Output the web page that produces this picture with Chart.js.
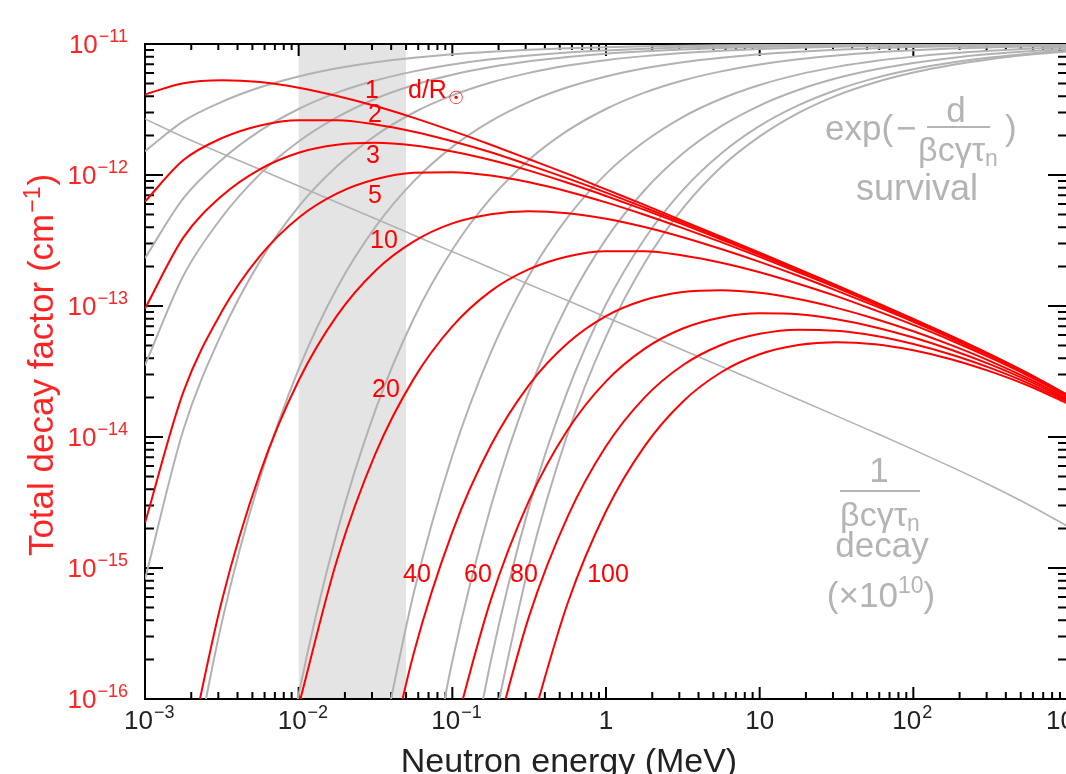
<!DOCTYPE html>
<html>
<head>
<meta charset="utf-8">
<title>Total decay factor</title>
<script src="https://cdn.jsdelivr.net/npm/chart.js@4.4.1/dist/chart.umd.min.js"></script>
<style>
  html, body { margin: 0; padding: 0; background: #fff; overflow: hidden; }
  canvas { display: block; }
</style>
</head>
<body>
<canvas id="decayChart" width="1100" height="774"></canvas>
<script>
// neutron energy (MeV), quarter-decade steps
const energies = [0.001, 0.00178, 0.00316, 0.00562, 0.01, 0.0178, 0.0316, 0.0562, 0.1, 0.178, 0.316, 0.562,
  1, 1.78, 3.16, 5.62, 10, 17.8, 31.6, 56.2, 100, 178, 316, 562, 1000];

// total decay factor (cm^-1), one curve per distance d/Rsun  (red)
const distances = ['1', '2', '3', '5', '10', '20', '40', '60', '80', '100'];
const total1 = [4.12e-12, 5.02e-12, 5.29e-12, 5.12e-12, 4.64e-12, 4.01e-12, 3.36e-12, 2.73e-12, 2.17e-12, 1.70e-12, 1.32e-12, 1.02e-12,
  7.76e-13, 5.91e-13, 4.47e-13, 3.38e-13, 2.55e-13, 1.92e-13, 1.44e-13, 1.073e-13, 7.96e-14, 5.87e-14, 4.27e-14, 3.04e-14, 2.10e-14];
const total2 = [6.27e-13, 1.30e-12, 1.91e-12, 2.39e-12, 2.62e-12, 2.62e-12, 2.43e-12, 2.14e-12, 1.81e-12, 1.49e-12, 1.19e-12, 9.42e-13,
  7.34e-13, 5.65e-13, 4.33e-13, 3.30e-13, 2.50e-13, 1.89e-13, 1.42e-13, 1.065e-13, 7.92e-14, 5.85e-14, 4.26e-14, 3.03e-14, 2.097e-14];
const total3 = [9.55e-14, 3.34e-13, 6.92e-13, 1.11e-12, 1.48e-12, 1.70e-12, 1.76e-12, 1.68e-12, 1.51e-12, 1.30e-12, 1.08e-12, 8.72e-13,
  6.92e-13, 5.42e-13, 4.20e-13, 3.22e-13, 2.46e-13, 1.86e-13, 1.41e-13, 1.057e-13, 7.88e-14, 5.82e-14, 4.24e-14, 3.02e-14, 2.093e-14];
const total5 = [2.21e-15, 2.22e-14, 9.06e-14, 2.42e-13, 4.72e-13, 7.23e-13, 9.27e-13, 1.04e-12, 1.05e-12, 9.90e-13, 8.79e-13, 7.49e-13,
  6.18e-13, 4.97e-13, 3.93e-13, 3.07e-13, 2.37e-13, 1.81e-13, 1.38e-13, 1.041e-13, 7.79e-14, 5.78e-14, 4.22e-14, 3.01e-14, 2.087e-14];
const total10 = [null, 2.52e-17, 5.61e-16, 5.36e-15, 2.70e-14, 8.48e-14, 1.86e-13, 3.11e-13, 4.27e-13, 5.02e-13, 5.29e-13, 5.11e-13,
  4.64e-13, 4.01e-13, 3.35e-13, 2.72e-13, 2.17e-13, 1.70e-13, 1.31e-13, 1.001e-13, 7.58e-14, 5.65e-14, 4.16e-14, 2.98e-14, 2.07e-14];
const total20 = [null, null, null, null, 8.88e-17, 1.16e-15, 7.46e-15, 2.79e-14, 6.99e-14, 1.30e-13, 1.91e-13, 2.39e-13,
  2.62e-13, 2.62e-13, 2.43e-13, 2.14e-13, 1.81e-13, 1.48e-13, 1.19e-13, 9.30e-14, 7.17e-14, 5.43e-14, 4.03e-14, 2.92e-14, 2.04e-14];
const total40 = [null, null, null, null, null, null, 1.20e-17, 2.25e-16, 1.88e-15, 8.60e-15, 2.50e-14, 5.19e-14,
  8.36e-14, 1.11e-13, 1.28e-13, 1.32e-13, 1.26e-13, 1.13e-13, 9.68e-14, 8.00e-14, 6.41e-14, 5.00e-14, 3.80e-14, 2.79e-14, 1.98e-14];
const total60 = [null, null, null, null, null, null, null, null, 5.05e-17, 5.71e-16, 3.28e-15, 1.13e-14,
  2.66e-14, 4.71e-14, 6.73e-14, 8.17e-14, 8.79e-14, 8.64e-14, 7.91e-14, 6.89e-14, 5.74e-14, 4.61e-14, 3.58e-14, 2.68e-14, 1.92e-14];
const total80 = [null, null, null, null, null, null, null, null, null, 3.80e-17, 4.29e-16, 2.46e-15,
  8.49e-15, 2.00e-14, 3.53e-14, 5.04e-14, 6.13e-14, 6.60e-14, 6.47e-14, 5.93e-14, 5.13e-14, 4.25e-14, 3.37e-14, 2.57e-14, 1.87e-14];
const total100 = [null, null, null, null, null, null, null, null, null, null, 5.61e-17, 5.36e-16,
  2.71e-15, 8.49e-15, 1.86e-14, 3.12e-14, 4.28e-14, 5.03e-14, 5.29e-14, 5.10e-14, 4.59e-14, 3.91e-14, 3.17e-14, 2.46e-14, 1.81e-14];

// survival exp(-d / beta c gamma tau_n), drawn on the same axis (1 = 1e-11)  (grey)
const survival1 = [1.52e-12, 2.58e-12, 3.62e-12, 4.67e-12, 5.65e-12, 6.52e-12, 7.26e-12, 7.86e-12, 8.36e-12, 8.74e-12, 9.04e-12, 9.28e-12,
  9.46e-12, 9.60e-12, 9.70e-12, 9.77e-12, 9.83e-12, 9.87e-12, 9.90e-12, 9.93e-12, 9.95e-12, 9.96e-12, 9.97e-12, 9.98e-12, 9.985e-12];
const survival2 = [2.32e-13, 6.65e-13, 1.31e-12, 2.18e-12, 3.19e-12, 4.25e-12, 5.26e-12, 6.18e-12, 6.97e-12, 7.64e-12, 8.17e-12, 8.60e-12,
  8.92e-12, 9.19e-12, 9.39e-12, 9.55e-12, 9.66e-12, 9.75e-12, 9.81e-12, 9.86e-12, 9.90e-12, 9.92e-12, 9.94e-12, 9.96e-12, 9.97e-12];
const survival3 = [3.53e-14, 1.71e-13, 4.74e-13, 1.02e-12, 1.80e-12, 2.76e-12, 3.82e-12, 4.86e-12, 5.82e-12, 6.67e-12, 7.38e-12, 7.96e-12,
  8.44e-12, 8.80e-12, 9.09e-12, 9.32e-12, 9.49e-12, 9.62e-12, 9.72e-12, 9.79e-12, 9.84e-12, 9.88e-12, 9.91e-12, 9.94e-12, 9.96e-12];
const survival5 = [8.19e-16, 1.14e-14, 6.20e-14, 2.21e-13, 5.74e-13, 1.17e-12, 2.00e-12, 3.00e-12, 4.05e-12, 5.08e-12, 6.02e-12, 6.84e-12,
  7.53e-12, 8.08e-12, 8.53e-12, 8.87e-12, 9.15e-12, 9.36e-12, 9.52e-12, 9.65e-12, 9.74e-12, 9.81e-12, 9.86e-12, 9.89e-12, 9.93e-12];
const survival10 = [null, 1.29e-17, 3.84e-16, 4.89e-15, 3.29e-14, 1.38e-13, 4.02e-13, 8.98e-13, 1.64e-12, 2.58e-12, 3.62e-12, 4.67e-12,
  5.65e-12, 6.52e-12, 7.26e-12, 7.86e-12, 8.36e-12, 8.74e-12, 9.04e-12, 9.29e-12, 9.47e-12, 9.61e-12, 9.71e-12, 9.79e-12, 9.86e-12];
const survival20 = [null, null, null, 2.39e-18, 1.08e-16, 1.89e-15, 1.61e-14, 8.06e-14, 2.69e-13, 6.65e-13, 1.31e-12, 2.18e-12,
  3.19e-12, 4.25e-12, 5.26e-12, 6.18e-12, 6.97e-12, 7.64e-12, 8.17e-12, 8.62e-12, 8.95e-12, 9.23e-12, 9.42e-12, 9.59e-12, 9.71e-12];
const survival40 = [null, null, null, null, null, null, 2.60e-17, 6.49e-16, 7.23e-15, 4.41e-14, 1.71e-13, 4.74e-13,
  1.02e-12, 1.80e-12, 2.77e-12, 3.82e-12, 4.87e-12, 5.84e-12, 6.69e-12, 7.42e-12, 8.01e-12, 8.50e-12, 8.88e-12, 9.19e-12, 9.43e-12];
const survival60 = [null, null, null, null, null, null, null, 5.22e-18, 1.95e-16, 2.93e-15, 2.24e-14, 1.03e-13,
  3.24e-13, 7.65e-13, 1.46e-12, 2.36e-12, 3.39e-12, 4.45e-12, 5.47e-12, 6.38e-12, 7.16e-12, 7.83e-12, 8.38e-12, 8.81e-12, 9.16e-12];
const survival80 = [null, null, null, null, null, null, null, null, 5.22e-18, 1.95e-16, 2.94e-15, 2.24e-14,
  1.03e-13, 3.25e-13, 7.66e-13, 1.46e-12, 2.37e-12, 3.40e-12, 4.46e-12, 5.49e-12, 6.41e-12, 7.21e-12, 7.88e-12, 8.44e-12, 8.90e-12];
// last grey curve as it sits in the picture
const survival100 = [null, null, null, null, null, null, null, null, null, 5.01e-17, 1.06e-15, 1.05e-14,
  5.84e-14, 2.12e-13, 5.55e-13, 1.15e-12, 1.97e-12, 2.97e-12, 4.04e-12, 5.09e-12, 6.06e-12, 6.92e-12, 7.66e-12, 8.27e-12, 8.77e-12];

// decay rate 1/(beta c gamma tau_n), scaled  (grey straight line)
const decayRate = [2.68e-12, 1.95e-12, 1.46e-12, 1.10e-12, 8.23e-13, 6.17e-13, 4.63e-13, 3.47e-13, 2.60e-13, 1.95e-13, 1.46e-13, 1.10e-13,
  8.22e-14, 6.17e-14, 4.62e-14, 3.46e-14, 2.59e-14, 1.94e-14, 1.45e-14, 1.08e-14, 8.01e-15, 5.89e-15, 4.28e-15, 3.04e-15, 2.10e-15];

// shaded energy band (MeV)
const band = [0.01, 0.05];

// axis ticks
const xTickValues = [1e-3, 1e-2, 1e-1, 1, 10, 100, 1000];
const xTickLabels = ['10^\u22123', '10^\u22122', '10^\u22121', '1', '10', '10^2', '10^3'];
const yTickValues = [1e-11, 1e-12, 1e-13, 1e-14, 1e-15, 1e-16];
const yTickLabels = ['10^\u221211', '10^\u221212', '10^\u221213', '10^\u221214', '10^\u221215', '10^\u221216'];

const RED = '#ff0000';
const GREY = '#b2b2b2';
const GREY_TEXT = '#b4b4b4';
const font = (size) => size + 'px "Liberation Sans", Arial, Helvetica, sans-serif';

function toPoints(values) {
  return energies.map((e, i) => ({ x: e, y: values[i] }));
}

const totals = [total1, total2, total3, total5, total10, total20, total40, total60, total80, total100];
const survivals = [survival1, survival2, survival3, survival5, survival10, survival20, survival40, survival60, survival80, survival100];

const datasets = [];
totals.forEach((vals, i) => {
  datasets.push({
    label: 'd = ' + distances[i],
    data: toPoints(vals),
    borderColor: RED,
    borderWidth: 2,
    order: 1
  });
});
survivals.forEach((vals, i) => {
  datasets.push({
    label: 'survival ' + distances[i],
    data: toPoints(vals),
    borderColor: GREY,
    borderWidth: 2,
    order: 2
  });
});
datasets.push({
  label: 'decay',
  data: toPoints(decayRate),
  borderColor: GREY,
  borderWidth: 1.6,
  order: 2
});

// text with an optional superscript after '^'
function powerText(ctx, label, x, y, align, big, small, rise) {
  const parts = label.split('^');
  ctx.font = font(big);
  const wb = ctx.measureText(parts[0]).width;
  let ws = 0;
  if (parts[1]) {
    ctx.font = font(small);
    ws = ctx.measureText(parts[1]).width + 1;
  }
  let left = x;
  if (align === 'right') left = x - wb - ws;
  if (align === 'center') left = x - (wb + ws) / 2;
  ctx.textAlign = 'left';
  ctx.textBaseline = 'alphabetic';
  ctx.font = font(big);
  ctx.fillText(parts[0], left, y);
  if (parts[1]) {
    ctx.font = font(small);
    ctx.fillText(parts[1], left + wb + 1, y - rise);
  }
  return wb + ws;
}

// beta c gamma tau with subscript n, centred on cx
function drawBcgt(ctx, cx, base) {
  ctx.font = font(34);
  const w1 = ctx.measureText('\u03b2c\u03b3\u03c4').width;
  ctx.font = font(23);
  const w2 = ctx.measureText('n').width;
  const left = cx - (w1 + w2) / 2;
  ctx.textAlign = 'left';
  ctx.font = font(34);
  ctx.fillText('\u03b2c\u03b3\u03c4', left, base);
  ctx.font = font(23);
  ctx.fillText('n', left + w1, base + 5);
}

const framePlugin = {
  id: 'frame',
  beforeDatasetsDraw(chart) {
    const { ctx, chartArea: a, scales: { x, y } } = chart;
    ctx.save();
    // shaded band
    const bx0 = x.getPixelForValue(band[0]);
    const bx1 = x.getPixelForValue(band[1]);
    ctx.fillStyle = '#e4e4e4';
    ctx.fillRect(bx0, a.top, bx1 - bx0, a.bottom - a.top);

    ctx.strokeStyle = '#000';
    ctx.lineWidth = 2;
    ctx.strokeRect(a.left, a.top, a.right - a.left, a.bottom - a.top);

    ctx.beginPath();
    // x ticks, pointing inward on bottom and top
    for (let e = -3; e <= 3; e++) {
      for (let m = 1; m <= 9; m++) {
        if (e === 3 && m > 1) break;
        const px = x.getPixelForValue(m * Math.pow(10, e));
        const major = m === 1;
        ctx.moveTo(px, a.bottom);
        ctx.lineTo(px, a.bottom - (major ? 12 : 7));
        ctx.moveTo(px, a.top);
        ctx.lineTo(px, a.top + (major ? 12 : 6));
      }
    }
    // y ticks, left and right
    for (let e = -16; e <= -11; e++) {
      for (let m = 1; m <= 9; m++) {
        if (e === -11 && m > 1) break;
        const py = y.getPixelForValue(m * Math.pow(10, e));
        const major = m === 1;
        ctx.moveTo(a.left, py);
        ctx.lineTo(a.left + (major ? 18 : 9), py);
        ctx.moveTo(a.right, py);
        ctx.lineTo(a.right - (major ? 19 : 9), py);
      }
    }
    ctx.stroke();
    ctx.restore();
  },
  afterDraw(chart) {
    const { ctx, chartArea: a, scales: { x, y } } = chart;
    ctx.save();

    // tick labels
    ctx.fillStyle = '#222';
    xTickValues.forEach((v, i) => {
      const px = x.getPixelForValue(v);
      const lab = xTickLabels[i];
      if (lab.indexOf('^') >= 0) powerText(ctx, lab, px - 21, a.bottom + 30, 'left', 26, 18, 11);
      else powerText(ctx, lab, px, a.bottom + 30, 'center', 26, 18, 11);
    });
    ctx.fillStyle = '#ff2424';
    yTickValues.forEach((v, i) => {
      const py = y.getPixelForValue(v);
      powerText(ctx, yTickLabels[i], 128, py + 9, 'right', 26, 18, 11);
    });

    // axis titles
    ctx.fillStyle = '#222';
    ctx.font = font(34);
    ctx.textAlign = 'center';
    ctx.fillText('Neutron energy (MeV)', 569, 772);

    ctx.save();
    ctx.translate(53, 365);
    ctx.rotate(-Math.PI / 2);
    ctx.fillStyle = '#ff2424';
    ctx.font = font(35);
    const t1 = 'Total decay factor (cm';
    const w1 = ctx.measureText(t1).width;
    ctx.font = font(23);
    const w2 = ctx.measureText('\u22121').width;
    ctx.font = font(35);
    const w3 = ctx.measureText(')').width;
    const start = -(w1 + w2 + w3 + 2) / 2;
    ctx.textAlign = 'left';
    ctx.fillText(t1, start, 0);
    ctx.font = font(23);
    ctx.fillText('\u22121', start + w1 + 1, -13);
    ctx.font = font(35);
    ctx.fillText(')', start + w1 + w2 + 2, 0);
    ctx.restore();

    // distance labels on the red curves
    ctx.fillStyle = RED;
    ctx.font = font(25);
    ctx.textAlign = 'center';
    const curveLabels = [['1', 372, 98], ['2', 375, 122], ['3', 373, 163], ['5', 375, 203], ['10', 384, 248],
      ['20', 386, 397], ['40', 417, 582], ['60', 478, 582], ['80', 524, 582], ['100', 608, 582]];
    curveLabels.forEach(l => ctx.fillText(l[0], l[1], l[2]));
    ctx.textAlign = 'left';
    ctx.fillText('d/R', 408, 98);
    const wd = ctx.measureText('d/R').width;
    ctx.font = font(18);
    ctx.fillText('\u2609', 408 + wd + 1, 104);

    // survival formula
    ctx.fillStyle = GREY_TEXT;
    ctx.strokeStyle = GREY_TEXT;
    ctx.lineWidth = 2;
    ctx.font = font(35);
    ctx.textAlign = 'left';
    ctx.fillText('exp(', 825, 140);
    const we = ctx.measureText('exp(').width;
    ctx.fillText('\u2212', 825 + we + 3, 140);
    ctx.fillText(')', 1005, 140);
    ctx.textAlign = 'center';
    ctx.fillText('d', 956, 122);
    ctx.beginPath();
    ctx.moveTo(927, 127);
    ctx.lineTo(990, 127);
    ctx.stroke();
    drawBcgt(ctx, 958, 161);
    ctx.textAlign = 'center';
    ctx.font = font(36);
    ctx.fillText('survival', 917, 200);

    // decay formula
    ctx.font = font(35);
    ctx.fillText('1', 879, 482);
    ctx.beginPath();
    ctx.moveTo(840, 491);
    ctx.lineTo(920, 491);
    ctx.stroke();
    drawBcgt(ctx, 880, 526);
    ctx.textAlign = 'center';
    ctx.font = font(35);
    ctx.fillText('decay', 882, 557);
    ctx.textAlign = 'left';
    const wa = ctx.measureText('(\u00d710').width;
    ctx.font = font(23);
    const wb = ctx.measureText('10').width;
    ctx.font = font(35);
    const wc = ctx.measureText(')').width;
    const lx = 881 - (wa + wb + wc) / 2;
    ctx.fillText('(\u00d710', lx, 607);
    ctx.font = font(23);
    ctx.fillText('10', lx + wa, 593);
    ctx.font = font(35);
    ctx.fillText(')', lx + wa + wb, 607);

    ctx.restore();
  }
};

new Chart(document.getElementById('decayChart'), {
  type: 'line',
  data: { datasets: datasets },
  options: {
    responsive: false,
    animation: false,
    events: [],
    layout: { padding: { left: 145, top: 44, right: 33, bottom: 75 } },
    elements: {
      point: { radius: 0 },
      line: { cubicInterpolationMode: 'monotone', fill: false }
    },
    plugins: {
      legend: { display: false },
      tooltip: { enabled: false }
    },
    scales: {
      x: { type: 'logarithmic', min: 1e-3, max: 1e3, display: false },
      y: { type: 'logarithmic', min: 1e-16, max: 1e-11, display: false }
    }
  },
  plugins: [framePlugin]
});
</script>
</body>
</html>
